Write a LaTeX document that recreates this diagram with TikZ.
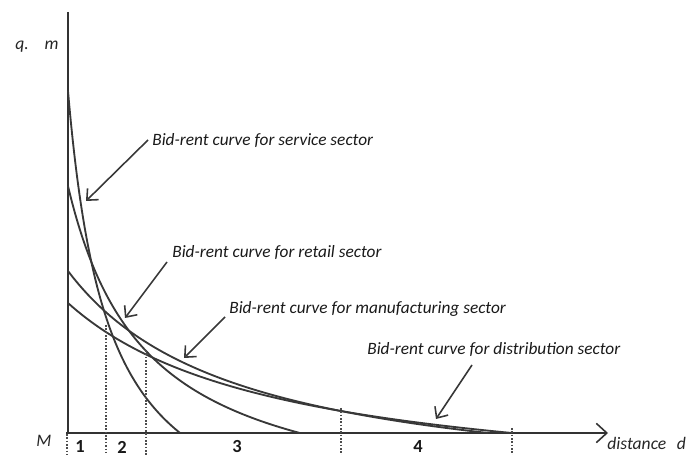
\documentclass[tikz,border=0pt]{standalone}
\usepackage{fontspec}
\setmainfont{Carlito}
\usetikzlibrary{arrows.meta}
\begin{document}
\begin{tikzpicture}[x=0.02cm,y=-0.02cm,
  axisline/.style={draw=black!80, line width=0.9pt},
  rentcurve/.style={draw=black!78, line width=1.05pt, line join=round},
  pointer/.style={draw=black!78, line width=0.9pt, -{Straight Barb[length=5pt,width=9pt,line width=0.9pt]}},
  zoneline/.style={draw=black!70, line width=0.9pt, densely dotted},
  curvelabel/.style={font=\itshape\fontsize{9.85}{11}\selectfont, text=black!90, anchor=west, inner sep=0pt},
  zonelabel/.style={font=\bfseries\fontsize{10.5}{12}\selectfont, text=black!90, inner sep=0pt},
  axislabel/.style={font=\itshape\fontsize{10}{12}\selectfont, text=black!85, inner sep=0pt}]
\useasboundingbox (0,0) rectangle (697,455);

% axes
\coordinate (O) at (68,433);
\coordinate (ytop) at (68,12);
\coordinate (xend) at (608,433);
\draw[axisline] (ytop) -- (O);
\draw[axisline, -{Straight Barb[length=6pt,width=11pt,line width=0.9pt]}] (66,433) -- (xend);

% bid-rent curves, r(t) = A/(t+c) - B with t the distance in hundreds of units
\draw[rentcurve] plot[domain=0:1.12, samples=120, smooth] ({68+100*\x},{433-(185.66/(\x+0.4)-122.1)});   % service
\draw[rentcurve] plot[domain=0:2.32, samples=120, smooth] ({68+100*\x},{433-(258.26/(\x+0.782)-83.3)});  % retail
\draw[rentcurve] plot[domain=0:4.2, samples=120, smooth] ({68+100*\x},{433-(393.66/(\x+1.723)-66.46)});  % manufacturing
\draw[rentcurve] plot[domain=0:4.44, samples=120, smooth] ({68+100*\x},{433-(412.28/(\x+2.14)-62.66)});  % distribution

% zone boundaries
\draw[zoneline] (67,434) -- (67,458);
\draw[zoneline] (106,325) -- (106,458);
\draw[zoneline] (146,350) -- (146,458);
\draw[zoneline] (341,408) -- (341,458);
\draw[zoneline] (512,428) -- (512,458);

% axis labels
\node[axislabel] (ylab) at (37,47) {q.\hspace{0.9em}m};
\node[axislabel] (origin) at (44,441) {M};
\node[axislabel, anchor=west] (xlab) at (607,443) {distance\hspace{0.6em}d};

% zone numbers
\node[zonelabel] (z1) at (80,447) {1};
\node[zonelabel] (z2) at (122,447) {2};
\node[zonelabel] (z3) at (237,447) {3};
\node[zonelabel] (z4) at (418,447) {4};

% curve labels and pointers
\node[curvelabel] (lserv) at (152,141) {Bid-rent curve for service sector};
\node[curvelabel] (lret) at (172,253) {Bid-rent curve for retail sector};
\node[curvelabel] (lman) at (229,309) {Bid-rent curve for manufacturing sector};
\node[curvelabel] (ldist) at (367,350) {Bid-rent curve for distribution sector};

\coordinate (tserv) at (148,140); \coordinate (hserv) at (86,201);
\coordinate (tret) at (167,262);  \coordinate (hret) at (125,318);
\coordinate (tman) at (225,317);  \coordinate (hman) at (184,358);
\coordinate (tdist) at (472,365); \coordinate (hdist) at (436,419);
\draw[pointer] (tserv) -- (hserv);
\draw[pointer] (tret) -- (hret);
\draw[pointer] (tman) -- (hman);
\draw[pointer] (tdist) -- (hdist);
\end{tikzpicture}
\end{document}
